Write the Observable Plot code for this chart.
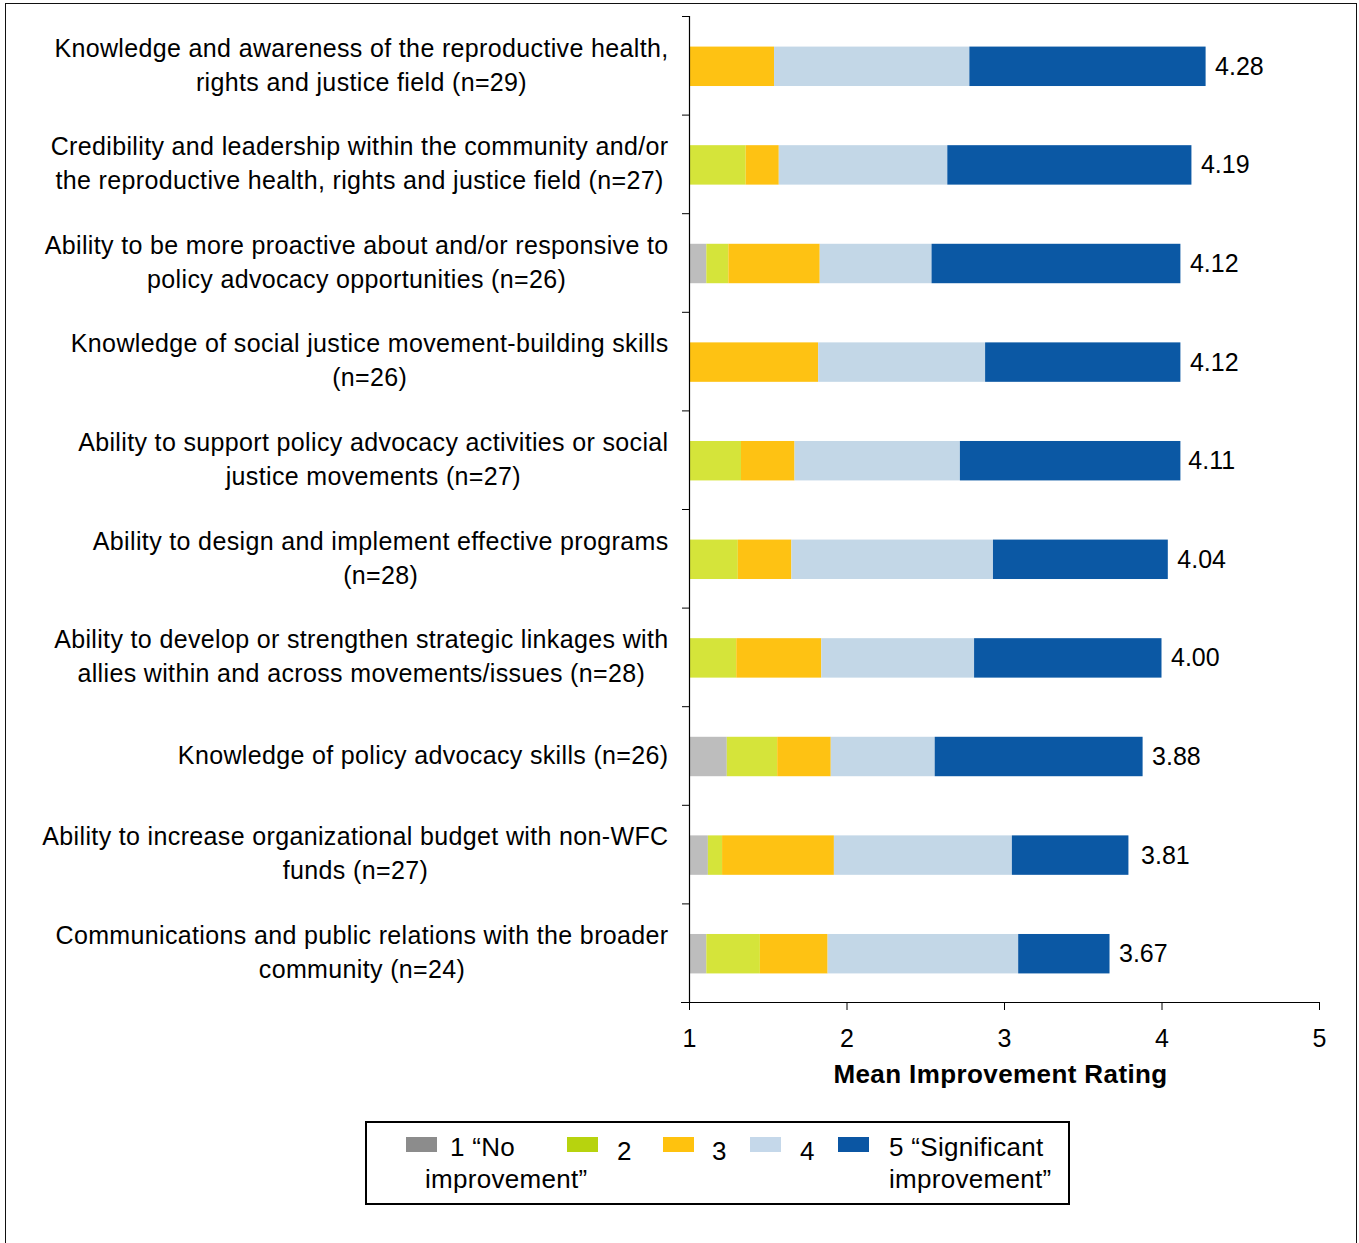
<!DOCTYPE html>
<html><head><meta charset="utf-8">
<script src="https://cdn.jsdelivr.net/npm/d3@7"></script>
<script src="https://cdn.jsdelivr.net/npm/@observablehq/plot@0.6"></script>
<style>
html,body{margin:0;padding:0;background:#fff;overflow:hidden;}
body{width:1359px;height:1243px;position:relative;font-family:"Liberation Sans",Arial,sans-serif;color:#000;}
#frame{position:absolute;left:5px;top:3px;width:1352px;height:1300px;border:1.5px solid #111;box-sizing:border-box;}
#chart{position:absolute;left:0;top:0;}
#legend{position:absolute;left:365px;top:1121px;width:705px;height:84px;border:2px solid #000;box-sizing:border-box;font-size:26px;letter-spacing:0.3px;}
.sw{position:absolute;width:31px;height:15px;}
.lt{position:absolute;white-space:nowrap;line-height:26px;}
</style></head><body>
<div id="frame"></div>
<div id="chart"></div>
<div id="legend"></div>
<script>
const categories = [
  "Knowledge and awareness of the reproductive health,\nrights and justice field (n=29)",
  "Credibility and leadership within the community and/or\nthe reproductive health, rights and justice field (n=27)",
  "Ability to be more proactive about and/or responsive to\npolicy advocacy opportunities (n=26)",
  "Knowledge of social justice movement-building skills\n(n=26)",
  "Ability to support policy advocacy activities or social\njustice movements (n=27)",
  "Ability to design and implement effective programs\n(n=28)",
  "Ability to develop or strengthen strategic linkages with\nallies within and across movements/issues (n=28)",
  "Knowledge of policy advocacy skills (n=26)",
  "Ability to increase organizational budget with non-WFC\nfunds (n=27)",
  "Communications and public relations with the broader\ncommunity (n=24)"
];
const means   = [4.28, 4.19, 4.12, 4.12, 4.11, 4.04, 4.00, 3.88, 3.81, 3.67];
// segment widths (share of the bar) for each rating level
const rating1 = [0,    0,    0.11, 0,    0,    0,    0,    0.24, 0.12, 0.11];
const rating2 = [0,    0.36, 0.14, 0,    0.33, 0.31, 0.30, 0.32, 0.09, 0.34];
const rating3 = [0.54, 0.21, 0.58, 0.82, 0.34, 0.34, 0.54, 0.34, 0.71, 0.43];
const rating4 = [1.24, 1.07, 0.71, 1.06, 1.05, 1.28, 0.97, 0.66, 1.13, 1.21];
const rating5 = [1.50, 1.55, 1.58, 1.24, 1.40, 1.11, 1.19, 1.32, 0.74, 0.58];
const ratingKeys = ["1", "2", "3", "4", "5"];
const barColors = ["#bdbdbd", "#d5e43a", "#fec213", "#c3d7e7", "#0b58a4"];
const legendColors = ["#8c8c8c", "#b7d30e", "#ffc20e", "#c5d8ea", "#0b56a3"];
const legendLabels = [["1 \u201cNo", "improvement\u201d"], ["2"], ["3"], ["4"], ["5 \u201cSignificant", "improvement\u201d"]];
const xTicks = [1, 2, 3, 4, 5];
const xTitle = "Mean Improvement Rating";

const series = [rating1, rating2, rating3, rating4, rating5];
const segments = [];
categories.forEach((c, i) => {
  let acc = 1;
  series.forEach((s, k) => {
    const w = s[i];
    if (w > 0) segments.push({category: c, rating: ratingKeys[k], x1: acc, x2: acc + w});
    acc += w;
  });
});
const meanRows = categories.map((c, i) => ({category: c, mean: means[i]}));

const W = 1359, H = 1100, mT = 16, mB = 98, mL = 689, mR = 40;
const step = (H - mT - mB) / categories.length;
const font = "Liberation Sans, Arial, sans-serif";

const plot = Plot.plot({
  width: W, height: H,
  marginTop: mT, marginBottom: mB, marginLeft: mL, marginRight: mR,
  style: {fontFamily: font, fontSize: "25px", color: "#000", background: "transparent", overflow: "visible"},
  x: {domain: [1, 5], label: null},
  y: {domain: categories, paddingInner: 0.6, paddingOuter: 0.3, round: false, label: null},
  color: {domain: ratingKeys, range: barColors},
  marks: [
    Plot.barX(segments, {x1: "x1", x2: "x2", y: "category", fill: "rating", dy: 1}),
    Plot.text(meanRows, {x: "mean", y: "category", text: d => d.mean.toFixed(2), textAnchor: "start", dx: 9, dy: 1, fontSize: 25, fill: "#000"}),
    Plot.ruleX([1], {stroke: "#000", strokeWidth: 1.2}),
    Plot.ruleY([categories[categories.length - 1]], {y: d => d, dy: step / 2, insetLeft: -8, stroke: "#000", strokeWidth: 1.2}),
    Plot.axisY({tickSize: 7, tickFormat: () => "", dy: -step / 2, label: null, stroke: "#000"}),
    Plot.axisY({tickSize: 0, tickPadding: 21, fontSize: 25, lineHeight: 1.36, dy: -3, label: null}),
    Plot.axisX({ticks: xTicks, tickSize: 8, tickPadding: 19, fontSize: 25, tickFormat: d => String(d), label: null, stroke: "#000"}),
    Plot.text([xTitle], {frameAnchor: "bottom", dy: 80, dx: -4, fontWeight: "bold", fontSize: 26, fill: "#000"})
  ]
});
document.getElementById("chart").append(plot);

// letter spacing of the category labels and the axis title
plot.querySelectorAll('g[aria-label="y-axis tick label"] text').forEach(t => t.style.letterSpacing = "0.35px");
plot.querySelectorAll('g[aria-label="text"] text').forEach(t => { if (t.textContent === xTitle) t.style.letterSpacing = "0.4px"; });

// center each multi-line category label within its own right-aligned block
plot.querySelectorAll('g[aria-label="y-axis tick label"] text').forEach(t => {
  const w = t.getBBox().width;
  if (!w) return;
  t.setAttribute("text-anchor", "middle");
  const tr = t.getAttribute("transform") || "";
  t.setAttribute("transform", tr + ` translate(${-w / 2},0)`);
});

// legend
const legend = document.getElementById("legend");
const swX = [39, 200, 296, 383, 471];
const txX = [[83, 58], [250], [345], [433], [522, 522]];
legendLabels.forEach((lines, k) => {
  const sw = document.createElement("div");
  sw.className = "sw";
  sw.style.left = swX[k] + "px";
  sw.style.top = "14px";
  sw.style.background = legendColors[k];
  legend.append(sw);
  lines.forEach((txt, j) => {
    const el = document.createElement("div");
    el.className = "lt";
    el.textContent = txt;
    el.style.left = txX[k][j] + "px";
    el.style.top = (lines.length === 1 ? 15 : 11 + j * 32) + "px";
    legend.append(el);
  });
});
</script>
</body></html>
